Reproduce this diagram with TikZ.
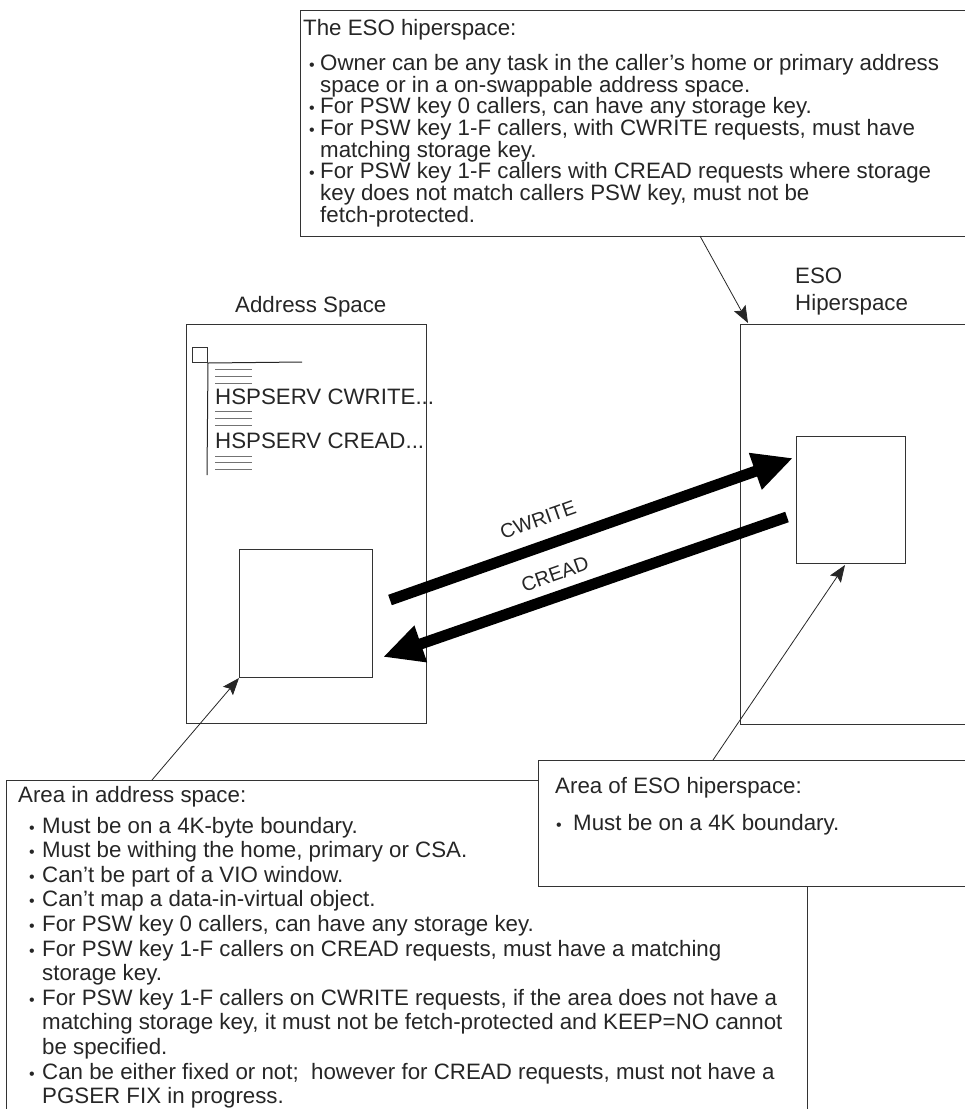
\documentclass[tikz,border=0pt]{standalone}
\usepackage{fontspec}
\setmainfont{Liberation Sans}
\usetikzlibrary{arrows.meta}
\begin{document}
\begin{tikzpicture}[x=1pt,y=-1pt,
  txt/.style={anchor=base west, inner sep=0pt, font=\fontsize{22.3}{22}\selectfont, text=black!85},
  bul/.style={anchor=base west, inner sep=0pt, font=\fontsize{16}{16}\selectfont, text=black!85},
  box/.style={draw=black!80, line width=1pt, anchor=north west, inner sep=0pt},
  wbox/.style={box, fill=white},
  codeline/.style={draw=black!55, line width=1pt},
  ptr/.style={draw=black!85, line width=0.8pt, -{Stealth[length=17pt,width=13pt,inset=3pt]}},
  fat/.style={draw=black, line width=11pt, -{Triangle[length=40pt,width=36pt]}},
  lbl/.style={inner sep=0pt, font=\fontsize{20}{20}\selectfont, text=black!85, rotate=19.4},
]
\useasboundingbox (0,0) rectangle (965,1109);
\clip (0,0) rectangle (965,1109);

% ---------- top box
\node[wbox, minimum width=700pt, minimum height=226pt, line width=1.3pt] (top) at (300,10) {};
\node[txt] (t0) at (303,35) {The ESO hiperspace:};
\node[bul] (tb1) at (309,70) {•};
\node[txt] (t1) at (320,70) {Owner can be any task in the caller’s home or primary address};
\node[txt] (t2) at (320,92) {space or in a on-swappable address space.};
\node[bul] (tb3) at (309,113) {•};
\node[txt] (t3) at (320,113) {For PSW key 0 callers, can have any storage key.};
\node[bul] (tb4) at (309,135) {•};
\node[txt] (t4) at (320,135) {For PSW key 1-F callers, with CWRITE requests, must have};
\node[txt] (t5) at (320,157) {matching storage key.};
\node[bul] (tb6) at (309,178) {•};
\node[txt] (t6) at (320,178) {For PSW key 1-F callers with CREAD requests where storage};
\node[txt] (t7) at (320,200) {key does not match callers PSW key, must not be};
\node[txt] (t8) at (320,222) {fetch-protected.};

% ---------- address space
\node[txt] (aslbl) at (235,312) {Address Space};
\node[box, minimum width=240pt, minimum height=399pt] (as) at (186,324) {};
\node[box, minimum width=15pt, minimum height=15pt] (sq) at (192,347) {};
\draw[line width=1pt, black!85] (sq.south east) -- (302,362);
\draw[line width=1pt, black!85] (sq.south east) -- (207,475);
\foreach \y in {369,376,383,411,418,425,456,462,469}
  \draw[codeline] (215,\y) -- (252,\y);
\node[txt] (c1) at (215,404) {HSPSERV CWRITE...};
\node[txt] (c2) at (215,448) {HSPSERV CREAD...};
\node[box, minimum width=133pt, minimum height=128pt] (asarea) at (239,549) {};

% ---------- ESO hiperspace
\node[txt] (esol1) at (795,283) {ESO};
\node[txt] (esol2) at (795,310) {Hiperspace};
\node[box, minimum width=260pt, minimum height=400pt] (eso) at (740,324) {};
\node[box, minimum width=109pt, minimum height=127pt] (esoarea) at (796,436) {};

% ---------- transfer arrows
\coordinate (cwS) at (390,600);
\coordinate (cwE) at (793,458);
\coordinate (crS) at (787,517);
\coordinate (crE) at (383,657);
\draw[fat] (cwS) -- (cwE);
\draw[fat] (crS) -- (crE);
\node[lbl] (cwl) at (538,520) {CWRITE};
\node[lbl] (crl) at (555,574) {CREAD};

% ---------- bottom boxes
\node[box, minimum width=801pt, minimum height=400pt] (bot) at (6,780) {};
\node[wbox, minimum width=440pt, minimum height=126pt] (area) at (538,760) {};

\node[txt] (a0) at (555,793) {Area of ESO hiperspace:};
\node[bul] (ab1) at (556,830) {•};
\node[txt] (a1) at (573,830) {Must be on a 4K boundary.};

\node[txt] (b0) at (18,802) {Area in address space:};
\foreach \i/\t in {
  1/{Must be on a 4K-byte boundary.},
  2/{Must be withing the home, primary or CSA.},
  3/{Can’t be part of a VIO window.},
  4/{Can’t map a data-in-virtual object.},
  5/{For PSW key 0 callers, can have any storage key.},
  6/{For PSW key 1-F callers on CREAD requests, must have a matching},
  8/{For PSW key 1-F callers on CWRITE requests, if the area does not have a},
  11/{Can be either fixed or not;\ \ however for CREAD requests, must not have a}}
{
  \node[bul] (bb\i) at (29,{833+24.6*(\i-1)}) {•};
  \node[txt] (bt\i) at (42,{833+24.6*(\i-1)}) {\t};
}
\foreach \i/\t in {
  7/{storage key.},
  9/{matching storage key, it must not be fetch-protected and KEEP=NO cannot},
  10/{be specified.},
  12/{PGSER FIX in progress.}}
{
  \node[txt] (bt\i) at (42,{833+24.6*(\i-1)}) {\t};
}

% ---------- pointers
\coordinate (p1s) at (700,236);
\coordinate (p2s) at (152,780);
\coordinate (p3s) at (713,760);
\coordinate (p3e) at (845,565);
\draw[ptr] (p1s) -- (748,323);
\draw[ptr] (p2s) -- (asarea.south west);
\draw[ptr] (p3s) -- (p3e);
\end{tikzpicture}
\end{document}
